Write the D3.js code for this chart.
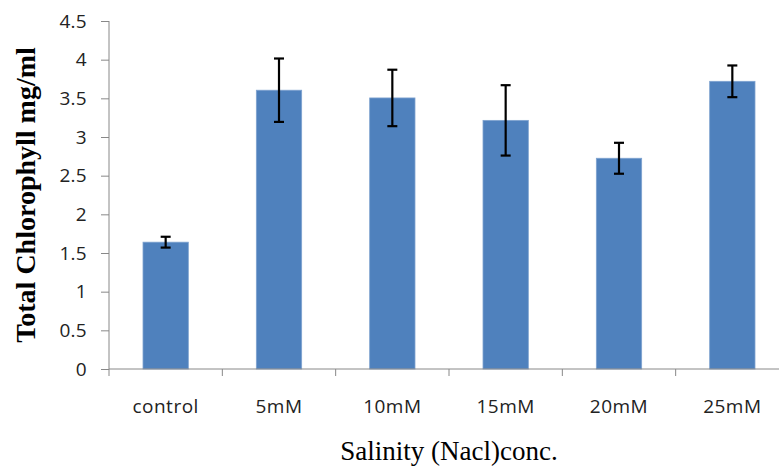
<!DOCTYPE html>
<html>
<head>
<meta charset="utf-8">
<script src="https://cdn.jsdelivr.net/npm/d3@7"></script>
<style>
  html, body { margin: 0; padding: 0; background: #fff; }
  svg { display: block; }
</style>
</head>
<body>
<svg id="chart" width="779" height="471"></svg>
<script>
// Total chlorophyll content under increasing salinity
const categories = ["control", "5mM", "10mM", "15mM", "20mM", "25mM"];
const means = [1.64, 3.605, 3.505, 3.215, 2.725, 3.72];
const errors = [0.07, 0.41, 0.365, 0.455, 0.2, 0.205];
const yTicks = [0, 0.5, 1, 1.5, 2, 2.5, 3, 3.5, 4, 4.5];

const svg = d3.select("#chart");
const plotLeft = 109, plotRight = 789, plotTop = 21, plotBottom = 369;

const x = d3.scaleBand().domain(categories).range([plotLeft, plotRight]).paddingInner(0.6).paddingOuter(0.3);
const y = d3.scaleLinear().domain([0, 4.5]).range([plotBottom, plotTop]);

const axisColor = "#888888";
const tickFont = "'Open Sans', 'Noto Sans', sans-serif";
const tickSize = 19;

// bars
svg.append("g").selectAll("rect").data(categories).join("rect")
  .attr("x", d => x(d))
  .attr("width", x.bandwidth())
  .attr("y", (d, i) => y(means[i]))
  .attr("height", (d, i) => y(0) - y(means[i]))
  .attr("fill", "#4F81BD")
  .attr("stroke", "#7fa3d0")
  .attr("stroke-width", 0.8);

// y axis
const yAxis = svg.append("g").attr("transform", `translate(${plotLeft},0)`)
  .call(d3.axisLeft(y).tickValues(yTicks).tickSize(8).tickPadding(14).tickFormat(d3.format("")));
yAxis.select(".domain").attr("stroke", axisColor).attr("d", `M0,${plotTop}V${plotBottom}`);
yAxis.selectAll(".tick line").attr("stroke", axisColor);
yAxis.selectAll(".tick text").attr("font-family", tickFont).attr("font-size", tickSize)
  .attr("letter-spacing", 0.3).attr("fill", "#222");

// x axis with tick marks on category boundaries
const xAxis = svg.append("g").attr("transform", `translate(0,${plotBottom})`);
xAxis.append("line").attr("x1", plotLeft).attr("x2", plotRight).attr("stroke", axisColor);
const step = x.step();
const boundaries = d3.range(categories.length + 1).map(i => plotLeft + i * step);
xAxis.selectAll("line.tk").data(boundaries).join("line").attr("class", "tk")
  .attr("x1", d => d).attr("x2", d => d).attr("y1", 0).attr("y2", 7).attr("stroke", axisColor);
xAxis.selectAll("text").data(categories).join("text")
  .attr("x", d => x(d) + x.bandwidth() / 2)
  .attr("y", 44)
  .attr("text-anchor", "middle")
  .attr("font-family", tickFont).attr("font-size", tickSize)
  .attr("letter-spacing", 0.5).attr("fill", "#222")
  .text(d => d);

// error bars
const eb = svg.append("g").attr("stroke", "#000").attr("stroke-width", 2.2);
categories.forEach((c, i) => {
  const cx = x(c) + x.bandwidth() / 2;
  const y1 = y(means[i] + errors[i]), y2 = y(means[i] - errors[i]);
  eb.append("line").attr("x1", cx).attr("x2", cx).attr("y1", y1).attr("y2", y2);
  eb.append("line").attr("x1", cx - 5).attr("x2", cx + 5).attr("y1", y1).attr("y2", y1);
  eb.append("line").attr("x1", cx - 5).attr("x2", cx + 5).attr("y1", y2).attr("y2", y2);
});

// axis titles
svg.append("text")
  .attr("transform", "translate(35,195) rotate(-90)")
  .attr("text-anchor", "middle")
  .attr("font-family", "'Liberation Serif', 'Times New Roman', serif")
  .attr("font-weight", "bold").attr("font-size", 28)
  .text("Total Chlorophyll mg/ml");

svg.append("text")
  .attr("x", 449).attr("y", 460)
  .attr("text-anchor", "middle")
  .attr("font-family", "'Liberation Serif', 'Times New Roman', serif")
  .attr("font-size", 27)
  .text("Salinity (Nacl)conc.");
</script>
</body>
</html>
